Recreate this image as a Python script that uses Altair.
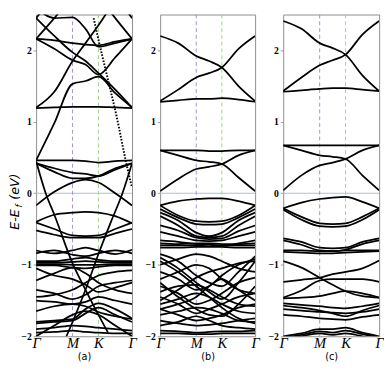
import altair as alt
import pandas as pd

# k-path sample positions (Γ, ·, M, ·, K, ·, Γ)
K7 = [0.0, 0.19, 0.38, 0.515, 0.65, 0.825, 1.0]
K_TICKS = [0.0, 0.38, 0.65, 1.0]
K_LABELS = ["Γ", "M", "K", "Γ"]
Y_TICKS = [-2, -1, 0, 1, 2]

# ---------------- panel (a) bands (eV at K7) ----------------
a_bands = {
    "t1": [2.16, 2.45, 2.75, 2.90, 3.00, 2.75, 2.45],
    "t2": [2.45, 2.75, 3.00, 2.90, 2.75, 2.45, 2.16],
    "t3": [2.16, 2.02, 1.86, 1.80, 1.66, 1.90, 2.16],
    "t5": [2.16, 2.14, 2.10, 2.08, 2.07, 2.12, 2.16],
    "t6": [2.60, 2.45, 2.46, 2.30, 2.05, 2.10, 2.16],
    "u1": [1.19, 1.20, 1.21, 1.21, 1.21, 1.20, 1.19],
    "u2": [1.20, 1.42, 1.85, 2.10, 2.35, 2.70, 3.00],
    "u3": [2.45, 2.20, 1.97, 1.85, 1.68, 1.45, 1.20],
    "u4": [0.46, 0.98, 1.53, 1.57, 1.63, 1.40, 1.20],
    "m1": [0.46, 0.46, 0.46, 0.45, 0.43, 0.45, 0.46],
    "m2": [0.42, 0.35, 0.29, 0.27, 0.24, 0.33, 0.42],
    "m3": [0.42, 0.30, 0.21, 0.21, 0.24, 0.35, 0.42],
    "c1": [-0.17, 0.02, 0.15, 0.19, 0.15, 0.00, -0.17],
    "v1": [-0.40, -0.30, -0.27, -0.26, -0.27, -0.32, -0.42],
    "v2": [-0.41, -0.50, -0.59, -0.60, -0.59, -0.50, -0.41],
    "v3": [-0.52, -0.58, -0.62, -0.62, -0.62, -0.56, -0.50],
    "v4": [-0.80, -0.84, -0.80, -0.76, -0.80, -0.85, -0.79],
    "v5": [-0.84, -0.80, -0.86, -0.88, -0.84, -0.80, -0.84],
    "k1": [-0.95, -0.95, -0.92, -0.90, -0.93, -0.95, -0.95],
    "k2": [-0.97, -0.97, -0.96, -0.95, -0.96, -0.97, -0.97],
    "k3": [-0.99, -0.99, -1.00, -1.00, -1.00, -0.99, -0.99],
    "k4": [-1.01, -1.01, -1.04, -1.05, -1.03, -1.01, -1.01],
    "l1": [-1.22, -1.12, -1.04, -1.12, -1.25, -1.35, -1.40],
    "l2": [-1.05, -1.15, -1.20, -1.28, -1.38, -1.32, -1.25],
    "l3": [-1.45, -1.42, -1.35, -1.25, -1.15, -1.10, -1.08],
    "l4": [-1.50, -1.52, -1.55, -1.52, -1.45, -1.50, -1.55],
    "l5": [-1.80, -1.78, -1.76, -1.62, -1.54, -1.62, -1.75],
    "l6": [-1.82, -1.80, -1.78, -1.68, -1.60, -1.70, -1.80],
    "l7": [-1.90, -1.88, -1.85, -1.86, -1.88, -1.90, -1.92],
    "l8": [-1.95, -1.94, -1.92, -1.94, -1.95, -1.96, -1.96],
    "l9": [-1.35, -1.40, -1.48, -1.42, -1.30, -1.25, -1.22],
    "l10": [-1.65, -1.58, -1.55, -1.58, -1.66, -1.72, -1.76],
    "l11": [-2.00, -1.85, -1.70, -1.65, -1.70, -1.85, -2.00],
}
# steep bands of panel (a) with their own k samples
a_s1_k = [0.0, 0.10, 0.19, 0.38, 0.515, 0.65, 0.75]
a_s1_e = [0.45, 0.00, -0.30, -0.98, -1.35, -1.70, -1.95]
a_s2_k = [0.30, 0.38, 0.515, 0.65, 0.78, 0.90, 1.0]
a_s2_e = [-2.05, -1.80, -1.35, -0.85, -0.40, 0.00, 0.42]
a_dot_k = [0.60, 0.633, 0.74, 0.84, 0.94, 1.0]
a_dot_e = [2.45, 2.25, 1.64, 1.07, 0.42, 0.08]

# ---------------- panel (b) bands ----------------
b_bands = {
    "up1": [2.20, 2.10, 1.92, 1.85, 1.76, 1.50, 1.29],
    "up2": [1.29, 1.45, 1.62, 1.68, 1.76, 2.02, 2.20],
    "f1": [1.28, 1.30, 1.32, 1.32, 1.33, 1.31, 1.28],
    "f2": [0.60, 0.60, 0.60, 0.59, 0.59, 0.60, 0.60],
    "v1": [0.60, 0.53, 0.46, 0.44, 0.41, 0.22, 0.03],
    "v2": [0.03, 0.20, 0.34, 0.37, 0.41, 0.53, 0.60],
    "b1": [-0.17, -0.11, -0.08, -0.07, -0.07, -0.11, -0.17],
    "b2": [-0.17, -0.31, -0.39, -0.40, -0.39, -0.31, -0.17],
    "b3": [-0.22, -0.34, -0.43, -0.44, -0.43, -0.34, -0.22],
    "b4": [-0.27, -0.38, -0.55, -0.60, -0.55, -0.38, -0.27],
    "b5": [-0.32, -0.45, -0.60, -0.62, -0.60, -0.45, -0.32],
    "b6": [-0.45, -0.52, -0.62, -0.64, -0.63, -0.53, -0.45],
    "b7": [-0.54, -0.60, -0.66, -0.67, -0.66, -0.60, -0.54],
    "b8": [-0.70, -0.71, -0.70, -0.70, -0.71, -0.71, -0.70],
    "b9": [-0.73, -0.73, -0.73, -0.72, -0.73, -0.73, -0.73],
    "b10": [-0.76, -0.76, -0.75, -0.75, -0.75, -0.76, -0.76],
    "b11": [-0.66, -0.68, -0.71, -0.72, -0.74, -0.70, -0.66],
    "l1": [-0.85, -0.95, -1.15, -1.25, -1.30, -1.10, -0.88],
    "l2": [-0.90, -1.05, -1.25, -1.38, -1.48, -1.25, -0.95],
    "l3": [-1.00, -0.92, -0.85, -0.88, -0.95, -1.05, -1.10],
    "l4": [-1.10, -1.20, -1.35, -1.30, -1.15, -1.00, -0.92],
    "l5": [-1.20, -1.10, -1.00, -1.05, -1.20, -1.35, -1.40],
    "l6": [-1.30, -1.40, -1.55, -1.50, -1.40, -1.25, -1.18],
    "l7": [-1.38, -1.30, -1.28, -1.35, -1.45, -1.55, -1.58],
    "l8": [-1.45, -1.55, -1.68, -1.62, -1.55, -1.45, -1.40],
    "l9": [-1.55, -1.48, -1.40, -1.45, -1.55, -1.65, -1.68],
    "l10": [-1.62, -1.70, -1.78, -1.75, -1.70, -1.60, -1.55],
    "l11": [-1.70, -1.65, -1.60, -1.62, -1.68, -1.78, -1.80],
    "l12": [-1.78, -1.82, -1.85, -1.84, -1.82, -1.78, -1.75],
    "l13": [-1.85, -1.80, -1.72, -1.78, -1.85, -1.88, -1.90],
    "l14": [-1.92, -1.93, -1.95, -1.94, -1.93, -1.93, -1.92],
    "l15": [-1.96, -1.96, -1.97, -1.97, -1.96, -1.96, -1.96],
    "l16": [-1.50, -1.35, -1.18, -1.10, -1.05, -0.98, -0.95],
    "l17": [-0.95, -1.10, -1.30, -1.45, -1.60, -1.75, -1.82],
    "l18": [-1.25, -1.45, -1.62, -1.70, -1.72, -1.55, -1.30],
    "l19": [-1.62, -1.55, -1.45, -1.30, -1.20, -1.35, -1.50],
}

# ---------------- panel (c) bands ----------------
c_bands = {
    "up1": [2.41, 2.30, 2.10, 2.03, 1.94, 1.65, 1.43],
    "up2": [1.43, 1.62, 1.79, 1.86, 1.94, 2.22, 2.41],
    "f1": [1.42, 1.44, 1.46, 1.47, 1.47, 1.45, 1.43],
    "f2": [0.67, 0.67, 0.67, 0.67, 0.67, 0.67, 0.67],
    "v1": [0.67, 0.60, 0.53, 0.51, 0.48, 0.25, 0.04],
    "v2": [0.04, 0.25, 0.39, 0.43, 0.48, 0.60, 0.67],
    "b2": [-0.21, -0.13, -0.08, -0.06, -0.05, -0.12, -0.21],
    "b3": [-0.21, -0.33, -0.42, -0.43, -0.42, -0.33, -0.21],
    "b4": [-0.23, -0.37, -0.46, -0.47, -0.46, -0.37, -0.23],
    "b5": [-0.63, -0.68, -0.76, -0.77, -0.76, -0.68, -0.63],
    "b6": [-0.66, -0.72, -0.80, -0.81, -0.79, -0.71, -0.66],
    "b7": [-0.80, -0.80, -0.81, -0.81, -0.80, -0.80, -0.80],
    "b8": [-0.82, -0.83, -0.84, -0.84, -0.83, -0.82, -0.81],
    "b9": [-0.95, -1.04, -1.18, -1.28, -1.37, -1.44, -1.46],
    "b10": [-1.24, -1.21, -1.18, -1.13, -1.10, -1.05, -0.94],
    "b11": [-1.46, -1.36, -1.22, -1.20, -1.20, -1.20, -1.24],
    "b12": [-1.47, -1.46, -1.44, -1.40, -1.37, -1.40, -1.46],
    "b13": [-1.54, -1.56, -1.58, -1.60, -1.61, -1.58, -1.54],
    "b14": [-1.57, -1.60, -1.64, -1.68, -1.72, -1.64, -1.57],
    "b15": [-1.62, -1.64, -1.66, -1.67, -1.68, -1.66, -1.62],
    "b16": [-1.70, -1.72, -1.75, -1.76, -1.77, -1.73, -1.70],
    "b17": [-2.00, -1.96, -1.90, -1.90, -1.88, -1.95, -2.00],
    "b18": [-2.02, -1.98, -1.93, -1.95, -1.92, -1.97, -2.02],
    "b19": [-2.05, -2.00, -1.96, -1.98, -1.96, -2.00, -2.05],
}


def to_frame(bands, extra=()):
    rows = []
    for name, vals in bands.items():
        for k, e in zip(K7, vals):
            rows.append({"band": name, "k": k, "E": e})
    for name, ks, es in extra:
        for k, e in zip(ks, es):
            rows.append({"band": name, "k": k, "E": e})
    return pd.DataFrame(rows)


PH = 332
xscale = alt.Scale(domain=[0, 1], nice=False, zero=False)
yscale = alt.Scale(domain=[-2, 2.5], nice=False, zero=False)
label_expr = ("datum.value < 0.1 || datum.value > 0.9 ? 'Γ' : "
              "(datum.value < 0.5 ? 'M' : 'K')")


def panel(df, letter, width, dotted=None, with_title=False):
    xax = alt.Axis(values=K_TICKS, labelExpr=label_expr, labelFont="Liberation Serif",
                   labelFontStyle="italic", labelFontSize=15, labelColor="black",
                   labelPadding=0, ticks=False, domain=False, grid=False,
                   labelOverlap=False, labelFlush=False, labelBound=False,
                   title=letter, titleFont="DejaVu Sans", titleFontSize=10,
                   titleFontWeight="normal", titlePadding=1, titleColor="black")
    yax = alt.Axis(values=Y_TICKS, format="d", labelFont="Liberation Serif",
                   labelFontWeight="bold", labelFontSize=10, labelColor="black",
                   tickSize=3, tickColor="#999999", labelPadding=2, domain=False,
                   grid=False, title=None, labelOverlap=False)
    X = alt.X("k:Q", scale=xscale, axis=xax)
    Y = alt.Y("E:Q", scale=yscale, axis=yax)
    lines = alt.Chart(df).mark_line(interpolate="monotone", color="black",
                                    strokeWidth=1.8, clip=True).encode(
        x=X, y=Y, detail="band:N", order="k:Q")
    zero = alt.Chart(pd.DataFrame({"E": [0]})).mark_rule(
        color="#a9c0cf", strokeWidth=1).encode(y=Y)
    mline = alt.Chart(pd.DataFrame({"k": [K_TICKS[1]]})).mark_rule(
        color="#a58fc6", strokeWidth=1, strokeDash=[4, 3]).encode(x=X)
    kline = alt.Chart(pd.DataFrame({"k": [K_TICKS[2]]})).mark_rule(
        color="#9fd486", strokeWidth=1, strokeDash=[4, 3]).encode(x=X)
    layers = [zero, mline, kline, lines]
    if dotted is not None:
        dots = alt.Chart(dotted).mark_line(interpolate="monotone", color="black",
                                           strokeWidth=2, strokeDash=[1.6, 1.6],
                                           clip=True).encode(
            x=X, y=Y, detail="band:N", order="k:Q")
        layers.append(dots)
    if with_title:
        one = alt.Data(values=[{"a": 1}])
        common = dict(angle=270, align="left", baseline="middle",
                      font="DejaVu Sans", fontStyle="italic", color="black")
        t1 = alt.Chart(one).mark_text(fontSize=13, **common).encode(
            x=alt.value(-22), y=alt.value(222), text=alt.value("E-E"))
        t2 = alt.Chart(one).mark_text(fontSize=9, **common).encode(
            x=alt.value(-18), y=alt.value(199), text=alt.value("f"))
        t3 = alt.Chart(one).mark_text(fontSize=13, **common).encode(
            x=alt.value(-22), y=alt.value(191), text=alt.value("(eV)"))
        layers += [t1, t2, t3]
    return alt.layer(*layers).properties(width=width, height=PH)


df_a = to_frame(a_bands, [("s1", a_s1_k, a_s1_e), ("s2", a_s2_k, a_s2_e)])
df_a_dot = to_frame({}, [("dot", a_dot_k, a_dot_e)])
df_b = to_frame(b_bands)
df_c = to_frame(c_bands)

chart = alt.hconcat(
    panel(df_a, "(a)", 99, dotted=df_a_dot, with_title=True),
    panel(df_b, "(b)", 98),
    panel(df_c, "(c)", 99),
    spacing=7,
).properties(
    padding=0
).configure_view(stroke="#8c8c8c", strokeWidth=1)

chart.save("out.html", embed_options={"renderer": "svg", "actions": False})
